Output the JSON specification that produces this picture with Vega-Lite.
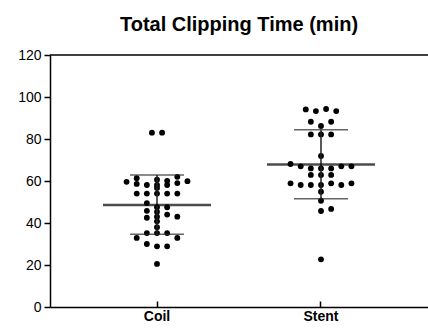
{
  "$schema": "https://vega.github.io/schema/vega-lite/v6.json",
  "autosize": {"type": "none"},
  "padding": {"left": 50, "top": 55, "right": 0, "bottom": 22},
  "width": 378,
  "height": 252,
  "background": "white",
  "title": {"text": "Total Clipping Time (min)", "font": "Liberation Sans", "fontSize": 20, "fontWeight": "bold", "color": "black", "anchor": "middle", "offset": 13},
  "config": {"view": {"stroke": null}, "axis": {"grid": false}},
  "datasets": {
    "points": [
      {"group": "Coil", "value": 83.0, "slot": -0.5},
      {"group": "Coil", "value": 83.0, "slot": 0.5},
      {"group": "Coil", "value": 62.0, "slot": 2},
      {"group": "Coil", "value": 61.3, "slot": -2},
      {"group": "Coil", "value": 60.6, "slot": 0},
      {"group": "Coil", "value": 60.1, "slot": 1},
      {"group": "Coil", "value": 59.9, "slot": 3},
      {"group": "Coil", "value": 59.6, "slot": -3},
      {"group": "Coil", "value": 58.6, "slot": -2},
      {"group": "Coil", "value": 58.1, "slot": -1},
      {"group": "Coil", "value": 58.1, "slot": 0},
      {"group": "Coil", "value": 58.1, "slot": 1},
      {"group": "Coil", "value": 59.0, "slot": 2},
      {"group": "Coil", "value": 56.7, "slot": 0},
      {"group": "Coil", "value": 54.0, "slot": -2},
      {"group": "Coil", "value": 54.0, "slot": -1},
      {"group": "Coil", "value": 54.0, "slot": 0},
      {"group": "Coil", "value": 54.0, "slot": 1},
      {"group": "Coil", "value": 54.0, "slot": 2},
      {"group": "Coil", "value": 49.5, "slot": -1},
      {"group": "Coil", "value": 47.5, "slot": 0},
      {"group": "Coil", "value": 47.5, "slot": 1},
      {"group": "Coil", "value": 45.8, "slot": -1},
      {"group": "Coil", "value": 45.3, "slot": 0},
      {"group": "Coil", "value": 44.0, "slot": 1},
      {"group": "Coil", "value": 43.0, "slot": 2},
      {"group": "Coil", "value": 42.5, "slot": -1},
      {"group": "Coil", "value": 43.0, "slot": 0},
      {"group": "Coil", "value": 40.8, "slot": 0},
      {"group": "Coil", "value": 38.0, "slot": 0},
      {"group": "Coil", "value": 35.2, "slot": -1},
      {"group": "Coil", "value": 35.2, "slot": 0},
      {"group": "Coil", "value": 35.2, "slot": 1},
      {"group": "Coil", "value": 32.9, "slot": -2},
      {"group": "Coil", "value": 32.9, "slot": 2},
      {"group": "Coil", "value": 30.0, "slot": -1},
      {"group": "Coil", "value": 28.9, "slot": 0},
      {"group": "Coil", "value": 28.9, "slot": 1},
      {"group": "Coil", "value": 20.5, "slot": 0},
      {"group": "Stent", "value": 94.1, "slot": -1.5},
      {"group": "Stent", "value": 93.3, "slot": -0.5},
      {"group": "Stent", "value": 94.3, "slot": 0.5},
      {"group": "Stent", "value": 93.3, "slot": 1.5},
      {"group": "Stent", "value": 88.2, "slot": -1},
      {"group": "Stent", "value": 88.2, "slot": 1},
      {"group": "Stent", "value": 86.2, "slot": 0},
      {"group": "Stent", "value": 82.2, "slot": -1},
      {"group": "Stent", "value": 82.2, "slot": 0},
      {"group": "Stent", "value": 82.2, "slot": 1},
      {"group": "Stent", "value": 71.9, "slot": 0},
      {"group": "Stent", "value": 68.1, "slot": -3},
      {"group": "Stent", "value": 67.0, "slot": -2},
      {"group": "Stent", "value": 66.0, "slot": -1},
      {"group": "Stent", "value": 66.0, "slot": 0},
      {"group": "Stent", "value": 66.0, "slot": 1},
      {"group": "Stent", "value": 67.0, "slot": 2},
      {"group": "Stent", "value": 67.0, "slot": 3},
      {"group": "Stent", "value": 62.9, "slot": -1},
      {"group": "Stent", "value": 62.9, "slot": 0},
      {"group": "Stent", "value": 62.9, "slot": 1},
      {"group": "Stent", "value": 58.9, "slot": -3},
      {"group": "Stent", "value": 58.1, "slot": -2},
      {"group": "Stent", "value": 58.1, "slot": -1},
      {"group": "Stent", "value": 58.1, "slot": 0},
      {"group": "Stent", "value": 58.9, "slot": 1},
      {"group": "Stent", "value": 58.1, "slot": 2},
      {"group": "Stent", "value": 58.9, "slot": 3},
      {"group": "Stent", "value": 54.9, "slot": 0},
      {"group": "Stent", "value": 50.6, "slot": 0},
      {"group": "Stent", "value": 45.7, "slot": 0},
      {"group": "Stent", "value": 46.7, "slot": 1},
      {"group": "Stent", "value": 22.7, "slot": 0}
    ],
    "summary": [
      {"group": "Coil", "mean": 48.6, "lo": 34.7, "hi": 62.8},
      {"group": "Stent", "mean": 67.9, "lo": 51.6, "hi": 84.4}
    ]
  },
  "encoding": {
    "x": {
      "field": "group", "type": "nominal",
      "scale": {"domain": ["Coil", "Stent"], "paddingInner": 0.3, "paddingOuter": 0.3025},
      "axis": {"title": null, "labelAngle": 0, "labelFont": "Liberation Sans", "labelFontSize": 14, "labelFontWeight": "bold", "labelColor": "black", "domainColor": "black", "domainWidth": 1.5, "tickColor": "black", "tickWidth": 1.5, "tickSize": -6, "labelPadding": 8}
    }
  },
  "layer": [
    {
      "data": {"values": [{"top": 120}]},
      "mark": {"type": "rule", "color": "black", "strokeWidth": 1.5},
      "encoding": {"x": null, "y": {"field": "top", "type": "quantitative", "scale": {"domain": [0, 120], "nice": false}}}
    },
    {
      "data": {"name": "points"},
      "mark": {"type": "point", "filled": true, "shape": "circle", "size": 34, "color": "black", "opacity": 1},
      "encoding": {
        "xOffset": {"field": "slot", "type": "quantitative", "scale": {"domain": [-3, 3], "range": [26.95, 87.85]}},
        "y": {
          "field": "value", "type": "quantitative",
          "scale": {"domain": [0, 120], "nice": false},
          "axis": {"title": null, "values": [0, 20, 40, 60, 80, 100, 120], "labelFont": "Liberation Sans", "labelFontSize": 14, "labelColor": "black", "domainColor": "black", "domainWidth": 1.5, "tickColor": "black", "tickWidth": 1.5, "tickSize": 6, "labelPadding": 3}
        }
      }
    },
    {
      "data": {"name": "summary"},
      "mark": {"type": "rule", "color": "#222", "strokeWidth": 1.5},
      "encoding": {"y": {"field": "lo", "type": "quantitative"}, "y2": {"field": "hi"}}
    },
    {
      "data": {"name": "summary"},
      "mark": {"type": "tick", "color": "#222", "thickness": 1.5, "size": 54},
      "encoding": {"y": {"field": "lo", "type": "quantitative"}}
    },
    {
      "data": {"name": "summary"},
      "mark": {"type": "tick", "color": "#222", "thickness": 1.5, "size": 54},
      "encoding": {"y": {"field": "hi", "type": "quantitative"}}
    },
    {
      "data": {"name": "summary"},
      "mark": {"type": "tick", "color": "black", "thickness": 2.5, "size": 108},
      "encoding": {"y": {"field": "mean", "type": "quantitative"}}
    }
  ],
  "resolve": {"scale": {"y": "shared"}}
}
